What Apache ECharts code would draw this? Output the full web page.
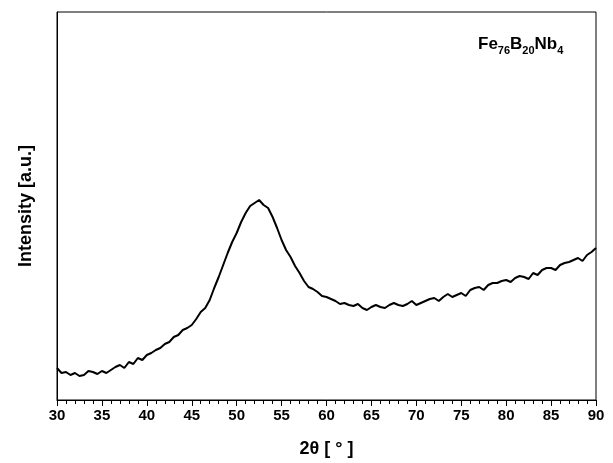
<!DOCTYPE html>
<html lang="en">
<head>
<meta charset="utf-8">
<title>XRD</title>
<script src="https://cdn.jsdelivr.net/npm/echarts@6/dist/echarts.min.js"></script>
</head>
<body style="margin:0">
<div id="main" style="width:613px;height:463px;"></div>
<script type="text/javascript">
    // 2theta from 30 to 90 in 0.5 deg steps
    var start = 30, step = 0.5;
    var intensity = [
        32,27, 28,25, 27,24, 25,29, 28,26, 29,27, 30,33, 35,32, 38,36, 42,40,
        45,47, 50,52, 56,58, 63,65, 70,72, 75,81, 88,92, 100,112, 123,135,
        147,158, 167,178, 187,194, 197,200, 195,192, 183,172, 160,150, 143,134,
        127,119, 113,111, 108,104, 103,101, 99,96, 97,95, 94,96, 92,90, 93,95,
        93,92, 95,97, 95,94, 96,99, 95,97, 99,101, 102,99, 103,106, 103,105,
        107,104, 110,112, 113,110, 115,117, 117,119, 120,118, 122,124, 123,121,
        127,125, 130,132, 132,130, 135,137, 138,140, 142,139, 145,148, 152
    ];
    var xTicks = [30, 90, 5];

    var pts = [];
    for (var i = 0; i < intensity.length; i++) {
        pts.push([start + i * step, intensity[i]]);
    }

    var myChart = echarts.init(document.getElementById('main'));
    var option = {
        backgroundColor: '#ffffff',
        animation: false,
        grid: {
            left: 57, right: 17, top: 12, bottom: 63,
            show: true, borderColor: '#000', borderWidth: 1
        },
        xAxis: {
            type: 'value',
            min: xTicks[0], max: xTicks[1], interval: xTicks[2],
            name: '2θ [ ° ]',
            nameLocation: 'middle',
            nameGap: 40,
            nameTextStyle: {fontFamily: 'Liberation Sans', fontWeight: 'bold', fontSize: 18, color: '#000'},
            axisLine: {lineStyle: {color: '#000', width: 1}},
            axisTick: {inside: false, length: 6, lineStyle: {color: '#000'}},
            minorTick: {show: true, splitNumber: 5, length: 4, lineStyle: {color: '#000'}},
            axisLabel: {fontFamily: 'Liberation Sans', fontWeight: 'bold', fontSize: 15, color: '#000', margin: 8},
            splitLine: {show: false}
        },
        yAxis: {
            type: 'value',
            min: 0, max: 388,
            name: 'Intensity [a.u.]',
            nameLocation: 'middle',
            nameGap: 22,
            nameTextStyle: {fontFamily: 'Liberation Sans', fontWeight: 'bold', fontSize: 18, color: '#000'},
            axisLine: {show: true, lineStyle: {color: '#000'}},
            axisTick: {show: false},
            axisLabel: {show: false},
            splitLine: {show: false}
        },
        graphic: [{
            type: 'text',
            left: 478, top: 36,
            style: {
                text: '{b|Fe}{s|76}{b|B}{s|20}{b|Nb}{s|4}',
                rich: {
                    b: {fontFamily: 'Liberation Sans', fontWeight: 'bold', fontSize: 17, fill: '#000'},
                    s: {fontFamily: 'Liberation Sans', fontWeight: 'bold', fontSize: 11, fill: '#000', padding: [12, 0, 0, 0]}
                }
            }
        }],
        series: [{
            type: 'line',
            data: pts,
            showSymbol: false,
            lineStyle: {color: '#000', width: 2},
            smooth: false
        }]
    };
    myChart.setOption(option);
</script>
</body>
</html>
